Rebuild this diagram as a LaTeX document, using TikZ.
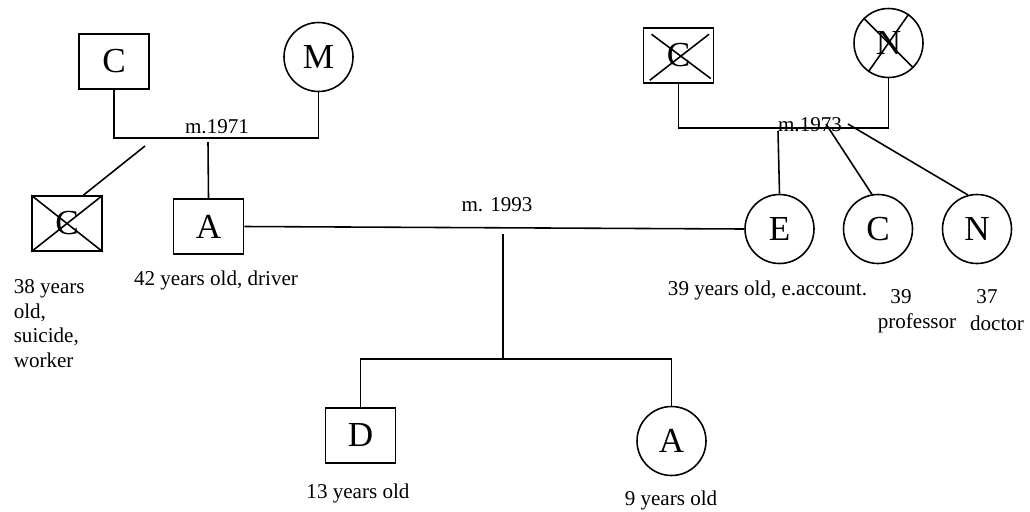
\documentclass[tikz,border=0pt]{standalone}
\usepackage{fontspec}
\setmainfont{Liberation Serif}
\usepackage{tikz}

\tikzset{
  male/.style={draw, rectangle, minimum width=1.4cm, minimum height=1.1cm, font=\fontsize{20}{22}\selectfont},
  female/.style={draw, circle, minimum size=1.38cm, inner sep=0pt, font=\fontsize{20}{22}\selectfont},
  lbl/.style={font=\fontsize{12}{14}\selectfont, inner sep=0pt}
}

\begin{document}
\begin{tikzpicture}[x=0.02cm, y=-0.02cm, line width=.9pt]
   \useasboundingbox (0,0) rectangle (1030,511);

   % father's parents
   \node[male] (cpgf) at (114,61.5) {C};
   \node[female] (mpgm) at (318.5,57) {M};
   \coordinate (lm) at (217,138);
   \draw (cpgf.south) |- (lm) -| (mpgm.south);
   \node[lbl] (lmy) at (217,127) {m.1971};

   % uncle C (dead)
   \node[male] (unc) at (67,223.5) {C};
   \draw (unc.north west) -- (unc.south east);
   \draw (unc.south west) -- (unc.north east);
   \coordinate (lk1) at (145,146);
   \draw (lk1) -- (unc.60);
   \node[lbl, align=left, anchor=north west, font=\fontsize{12}{13.9}\selectfont] (uncl) at (13,279) {38 years\\old,\\suicide,\\worker};

   % A
   \node[male] (husA) at (208.5,226.5) {A};
   \coordinate (lk2) at (208,142);
   \draw (lk2) -- (husA.north);
   \node[lbl] (husl) at (216,280) {42 years old, driver};

   % mother's parents (dead)
   \node[male] (mgf) at (678.5,55.5) {C};
   \draw ([xshift=5pt,yshift=-4pt]mgf.north west) -- ([xshift=-2pt,yshift=3pt]mgf.south east);
   \draw ([xshift=4pt,yshift=2pt]mgf.south west) -- ([xshift=-3pt,yshift=-4pt]mgf.north east);
   \node[female] (mgm) at (888.5,43) {N};
   \draw (mgm.north west) -- (mgm.south east);
   \draw (mgm.55) -- (mgm.235);
   \coordinate (rm) at (810,128);
   \draw (mgf.south) |- (rm) -| (mgm.south);
   \node[lbl] (rmy) at (810,125) {m.1973};

   % E and sisters
   \node[female] (wifE) at (779.5,229) {E};
   \node[female] (sisC) at (878,229) {C};
   \node[female] (sisN) at (977,229) {N};
   \coordinate (rk1) at (778,131);
   \coordinate (rk2) at (826,124);
   \coordinate (rk3) at (848,124);
   \draw (rk1) -- (wifE.north);
   \draw (rk2) -- (sisC.100);
   \draw (rk3) -- (sisN.105);
   \node[lbl] (wifl) at (767.5,290) {39 years old, e.account.};
   \node[lbl] (sisCa) at (901,297) {39};
   \node[lbl] (sisCj) at (917,323) {professor};
   \node[lbl] (sisNa) at (987,297) {37};
   \node[lbl] (sisNj) at (997,323) {doctor};

   % marriage 1993
   \draw (husA.east) -- (wifE.west);
   \node[lbl] (mmy) at (497,205) {m. 1993};
   \coordinate (mm) at (503,234);
   \coordinate (kids) at (503,359);
   \draw (mm) -- (kids);

   % children
   \node[male] (sonD) at (360.5,435.5) {D};
   \node[female] (dauA) at (671.5,441) {A};
   \draw (sonD.north) |- (kids) -| (dauA.north);
   \node[lbl] (sonl) at (358,493) {13 years old};
   \node[lbl] (daul) at (671,500) {9 years old};
\end{tikzpicture}
\end{document}
